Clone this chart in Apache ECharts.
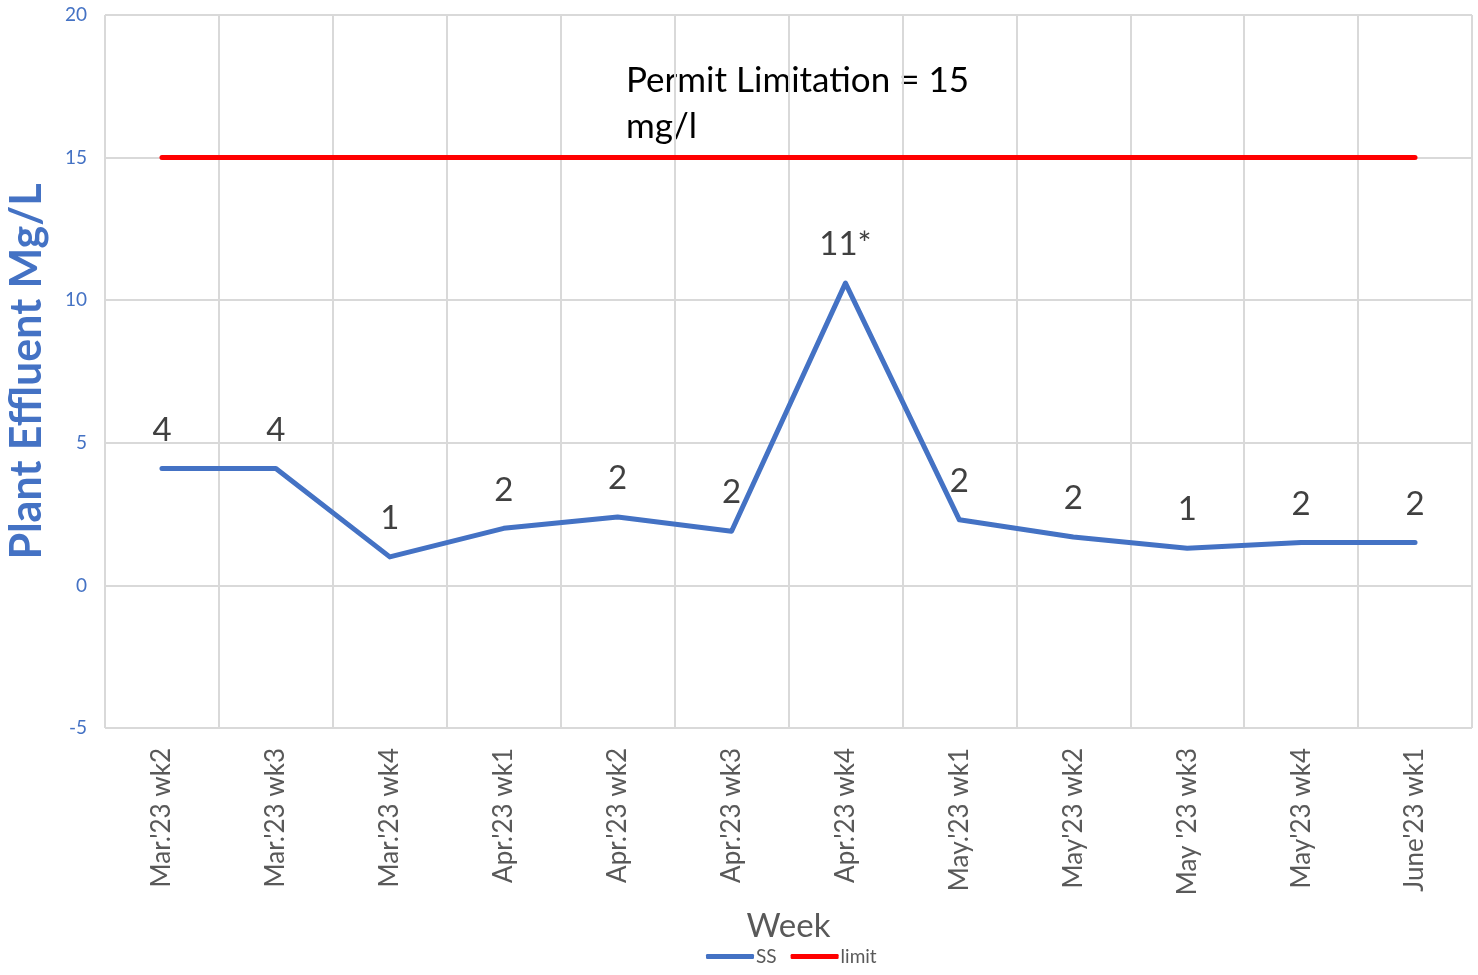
<!DOCTYPE html>
<html>
<head>
<meta charset="utf-8">
<script src="https://cdn.jsdelivr.net/npm/echarts@6/dist/echarts.min.js"></script>
<style>
  html, body { margin: 0; padding: 0; background: #fff; }
  #chart { width: 1478px; height: 975px; }
</style>
</head>
<body>
<div id="chart"></div>
<script>
// weeks on the x axis
const weeks = [
  "Mar.'23 wk2", "Mar.'23 wk3", "Mar.'23 wk4", "Apr.'23 wk1",
  "Apr.'23 wk2", "Apr.'23 wk3", "Apr.'23 wk4", "May.'23 wk1",
  "May'23 wk2", "May '23 wk3", "May'23 wk4", "June'23 wk1"
]
// SS values
const ssValues = [4.1, 4.1, 1.0, 2.0, 2.4, 1.9, 10.6, 2.3, 1.7, 1.3, 1.5, 1.5]
// the rounded labels printed above each point
const ssLabels = ['4', '4', '1', '2', '2', '2', '11*', '2', '2', '1', '2', '2']
// permit limit
const limitValues = [15, 15, 15, 15, 15, 15, 15, 15, 15, 15, 15, 15]

const FONT = 'Lato'
const chart = echarts.init(document.getElementById('chart'))

const option = {
  animation: false,
  textStyle: { fontFamily: FONT },
  grid: {
    left: 105,
    right: 6,
    top: 15,
    bottom: 247,
    outerBoundsMode: 'none'
  },
  legend: {
    bottom: 4,
    left: 701,
    itemWidth: 48,
    itemHeight: 5,
    itemGap: 14,
    icon: 'roundRect',
    textStyle: { color: '#595959', fontSize: 19, fontFamily: FONT, padding: [0, 0, 0, -3] },
    data: ['SS', 'limit']
  },
  xAxis: {
    type: 'category',
    data: weeks,
    boundaryGap: true,
    name: 'Week',
    nameLocation: 'middle',
    nameGap: 182,
    nameTextStyle: { color: '#595959', fontSize: 33, fontFamily: FONT },
    axisLine: { show: true, lineStyle: { color: '#d9d9d9', width: 2 } },
    axisTick: { show: false },
    axisLabel: {
      rotate: 90,
      margin: 20,
      color: '#595959',
      fontSize: 26,
      fontFamily: FONT,
      interval: 0
    },
    splitLine: { show: true, lineStyle: { color: '#d9d9d9', width: 2 } }
  },
  yAxis: {
    type: 'value',
    min: -5,
    max: 20,
    interval: 5,
    name: 'Plant Effluent Mg/L',
    nameLocation: 'middle',
    nameGap: 56,
    nameTextStyle: { color: '#4472c4', fontSize: 43, fontWeight: 'bold', fontFamily: FONT },
    axisLine: { show: false },
    axisTick: { show: false },
    axisLabel: { color: '#4472c4', fontSize: 19, fontFamily: FONT, margin: 18 },
    splitLine: { lineStyle: { color: '#d9d9d9', width: 2 } }
  },
  graphic: [
    {
      type: 'text',
      left: 626,
      top: 58,
      style: {
        text: 'Permit Limitation = 15\nmg/l',
        fill: '#000',
        fontSize: 35,
        lineHeight: 46,
        fontFamily: FONT
      }
    }
  ],
  series: [
    {
      name: 'SS',
      type: 'line',
      data: ssValues,
      symbol: 'circle',
      symbolSize: 0,
      showSymbol: true,
      lineStyle: { color: '#4472c4', width: 5, cap: 'round', join: 'round' },
      itemStyle: { color: '#4472c4' },
      label: {
        show: true,
        position: 'top',
        distance: 22,
        color: '#404040',
        fontSize: 33,
        fontFamily: FONT,
        formatter: p => ssLabels[p.dataIndex]
      },
      z: 3
    },
    {
      name: 'limit',
      type: 'line',
      data: limitValues,
      symbol: 'none',
      lineStyle: { color: '#ff0000', width: 5, cap: 'round' },
      itemStyle: { color: '#ff0000' },
      z: 2
    }
  ]
}

chart.setOption(option)
</script>
</body>
</html>
